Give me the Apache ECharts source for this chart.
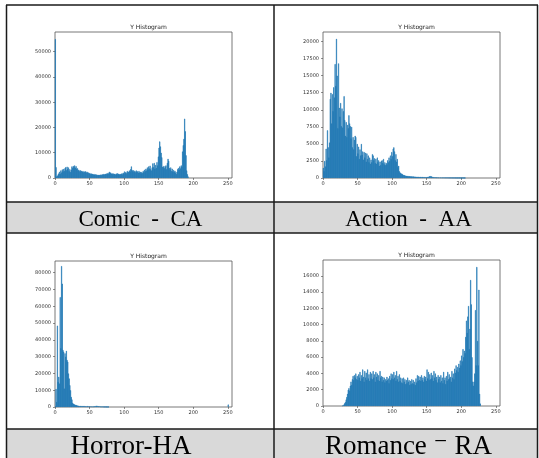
<!DOCTYPE html>
<html>
<head>
<meta charset="utf-8">
<script src="https://cdn.jsdelivr.net/npm/echarts@6/dist/echarts.min.js"></script>
<style>
html,body{margin:0;padding:0;background:#fff;}
#c{width:539px;height:458px;}
</style>
</head>
<body>
<div id="c"></div>
<script>
// bin index 0..255
const bins = Array.from({length: 256}, (_, i) => i);
const xTicks = [0, 50, 100, 150, 200, 250];

const captions = ['Comic  -  CA', 'Action  -  AA', 'Horror-HA', 'Romance \u207B RA'];
const chartTitle = 'Y Histogram';

const comicYTicks = [0, 10000, 20000, 30000, 40000, 50000];
const actionYTicks = [0, 2500, 5000, 7500, 10000, 12500, 15000, 17500, 20000];
const horrorYTicks = [0, 10000, 20000, 30000, 40000, 50000, 60000, 70000, 80000];
const romanceYTicks = [0, 2000, 4000, 6000, 8000, 10000, 12000, 14000, 16000];

const comic = [
55000,4300,600,900,1400,1800,2500,1600,3000,2200,
3400,2600,3600,2800,3900,4300,3100,4500,3600,4200,
2700,3500,2400,3300,4600,4000,4800,4300,5000,4100,
4700,3600,3900,3000,3300,2700,3100,2600,2900,2500,
2800,2300,2600,2400,2700,2200,2500,2000,2200,1800,
2000,1600,1800,1500,1700,1400,1600,1300,1500,1200,
1400,1200,1300,1100,1300,1200,1400,1200,1500,1300,
1600,1400,1700,1500,1800,1600,2000,1800,2500,2000,
2200,1700,1900,1600,1800,1500,1700,1400,1800,1500,
1900,1600,1700,1400,1600,1500,1800,1500,2100,1800,
2600,2000,2400,1900,2800,2300,2500,3000,2600,3500,
4600,3200,2700,3100,2400,2900,2300,3000,2400,2700,
2100,2800,2200,2500,1900,2400,2000,2800,2300,3300,
2700,3700,3000,4200,3400,4600,3800,4900,3500,3000,
4200,5800,4300,6000,3600,5200,4000,6300,5000,8500,
12000,14500,12500,10000,8200,4500,4300,4800,3900,4600,
5000,3500,6000,7600,6800,4000,3400,4200,2800,3700,
2600,3200,2400,2900,2200,1600,2500,3500,4000,3300,
4600,3800,5000,4500,10500,13000,15500,23500,18500,9000,
3000,1500,600,0,0,0,0,0,0,0,
0,0,0,0,0,0,0,0,0,0,
0,0,0,0,0,0,0,0,0,0,
0,0,0,0,0,0,0,0,0,0,
0,0,0,0,0,0,0,0,0,0,
0,0,0,0,0,0,0,0,0,0,
0,0,0,0,0,0
];

const action = [
1500,1000,2500,1700,4300,2600,7000,4500,3000,5200,
11600,12500,8000,12300,9800,13300,11800,16700,13500,20400,
15000,7300,16800,10300,9000,11000,7600,10200,7400,9800,
12000,8500,6200,8200,6000,7800,7300,9200,8000,7600,
5800,7500,4500,6000,4200,5600,6200,6000,3200,5000,
3600,4600,2800,4200,3300,5000,3400,3900,2700,3800,
3000,3700,2400,3600,2800,3300,2300,3000,2100,2700,
2300,3500,3300,2600,2900,2200,2800,2100,3000,2300,
2600,1800,2400,1900,2500,2600,2200,2800,2000,2300,
1900,2200,2000,2600,2300,3000,2500,3300,2800,3800,
3200,4300,4500,3900,2600,3500,2400,2800,1600,1800,
1000,800,700,650,600,500,450,420,380,350,
320,300,290,280,270,260,250,240,230,230,
220,210,200,200,190,180,180,170,170,160,
160,150,150,150,140,140,130,130,130,120,
140,160,180,220,260,280,250,200,160,130,
120,110,110,100,100,100,90,90,90,80,
80,80,80,70,70,70,70,60,60,60,
60,60,50,50,50,50,50,40,40,40,
40,40,30,30,30,30,30,30,20,20,
20,20,20,15,15,10,0,0,0,0,
0,0,0,0,0,0,0,0,0,0,
0,0,0,0,0,0,0,0,0,0,
0,0,0,0,0,0,0,0,0,0,
0,0,0,0,0,0,0,0,0,0,
0,0,0,0,0,0
];

const horror = [
200,10800,3000,48500,15000,18000,14000,65500,35000,84000,
73500,34000,33000,11000,32000,30000,33500,28000,27000,20000,
17000,13000,10000,6000,4500,2500,2000,1700,1500,1300,
1200,1000,900,800,700,600,700,500,600,500,
700,500,600,400,500,400,600,400,500,400,
450,350,400,300,350,300,500,400,600,500,
800,600,500,400,500,300,300,250,300,200,
200,150,150,120,120,100,100,100,0,0,
0,0,0,0,0,0,0,0,0,0,
0,0,0,0,0,0,0,0,0,0,
0,0,0,0,0,0,0,0,0,0,
0,0,0,0,0,0,0,0,0,0,
0,0,0,0,0,0,0,0,0,0,
0,0,0,0,0,0,0,0,0,0,
0,0,0,0,0,0,0,0,0,0,
0,0,0,0,0,0,0,0,0,0,
0,0,0,0,0,0,0,0,0,0,
0,0,0,0,0,0,0,0,0,0,
0,0,0,0,0,0,0,0,0,0,
0,0,0,0,0,0,0,0,0,0,
0,0,0,0,0,0,0,0,0,0,
0,0,0,0,0,0,0,0,0,0,
0,0,0,0,0,0,0,0,0,0,
0,0,0,0,0,0,0,0,0,0,
0,0,0,0,0,0,0,0,0,0,
1500,0,0,0,0,0
];

const romance = [
0,0,0,0,0,0,0,0,0,0,
0,0,0,0,0,0,0,0,0,0,
0,0,0,0,0,0,0,0,50,100,
200,350,500,800,1100,1500,2000,2200,1900,2500,
3000,2600,3300,3700,3200,3800,3500,4000,3300,3700,
3200,3900,3500,4200,3100,3800,3400,4500,3600,3000,
4300,3500,4100,3200,4500,3400,3900,3100,4200,3400,
4000,3300,4300,3500,3900,3000,4200,3600,4000,3200,
3800,3100,4300,3500,3700,3000,3600,3200,3500,2900,
3300,3100,3600,3200,3400,2800,3700,3200,4000,3400,
3900,3300,4200,3500,3800,3100,4300,3300,3700,3000,
3900,3100,3500,2900,3400,2800,3500,3000,3300,2700,
3200,2800,3500,3000,3200,2600,3100,2700,3300,2800,
3200,2700,3000,2600,3400,2900,3800,3100,3700,3200,
3600,3100,3800,3200,3500,3000,3700,3300,3600,3100,
4500,3400,4200,3200,3900,3300,4100,3400,3800,3100,
4300,3500,4000,3200,3600,2900,3800,3300,3600,2900,
3800,3100,3500,2800,4200,3200,3500,2700,3700,3100,
4200,3300,3900,3400,3600,3000,4300,3500,4000,3300,
4600,4100,5000,4400,4800,4200,5200,4700,5600,5000,
6200,5500,7000,6000,6800,6500,8500,10500,9000,11000,
12300,7000,9500,15500,12500,6000,3000,2500,3000,4000,
11800,5000,17100,8000,5000,14300,1500,300,0,0,
0,0,0,0,0,0,0,0,0,0,
0,0,0,0,0,0,0,0,0,0,
0,0,0,0,0,0
];

const panels = [
  {data: comic,   yTicks: comicYTicks,   yMax: 57800, yInt: 10000, left: 55,  top: 32},
  {data: action,  yTicks: actionYTicks,  yMax: 21400, yInt: 2500,  left: 323, top: 32},
  {data: horror,  yTicks: horrorYTicks,  yMax: 87000, yInt: 10000, left: 55,  top: 261},
  {data: romance, yTicks: romanceYTicks, yMax: 17950, yInt: 2000,  left: 323, top: 260}
];

const GW = 177, GH = 146;
const tickColor = '#444';
const labelStyle = {fontFamily: 'DejaVu Sans', fontSize: 5, color: '#333', formatter: (v) => String(v)};

const grid = [], xAxis = [], yAxis = [], series = [], title = [];
panels.forEach((p, i) => {
  grid.push({left: p.left, top: p.top, width: GW, height: GH, show: true,
    borderColor: '#555', borderWidth: 0.8, backgroundColor: '#fff', containLabel: false});
  xAxis.push({type: 'value', gridIndex: i, min: 0, max: 256, interval: 50,
    axisLine: {show: false}, splitLine: {show: false},
    axisTick: {show: true, length: 2, lineStyle: {color: tickColor, width: 0.6}, customValues: xTicks},
    axisLabel: Object.assign({margin: 3, customValues: xTicks}, labelStyle)});
  xAxis.push({type: 'category', gridIndex: i, data: bins, show: false, boundaryGap: true});
  yAxis.push({type: 'value', gridIndex: i, min: 0, max: p.yMax, interval: p.yInt,
    axisLine: {show: false}, splitLine: {show: false},
    axisTick: {show: true, length: 2, lineStyle: {color: tickColor, width: 0.6}, customValues: p.yTicks},
    axisLabel: Object.assign({margin: 4, customValues: p.yTicks}, labelStyle)});
  series.push({type: 'bar', xAxisIndex: i * 2 + 1, yAxisIndex: i,
    data: p.data.map(v => (v === 0 ? '-' : v)),
    barCategoryGap: '0%', z: 3,
    itemStyle: {color: '#1f77b4', borderColor: '#1f77b4', borderWidth: 0.6}, silent: true});
  title.push({text: chartTitle, left: p.left + GW / 2, top: p.top - 12.5, textAlign: 'center',
    textStyle: {fontFamily: 'DejaVu Sans', fontSize: 6, fontWeight: 'normal', color: '#222'}});
});

const lineStyle = {stroke: '#1a1a1a', lineWidth: 1.5};
const hLine = (y) => ({type: 'line', shape: {x1: 6, y1: y, x2: 538, y2: y}, style: lineStyle, z: 10});
const vLine = (x) => ({type: 'line', shape: {x1: x, y1: 5, x2: x, y2: 458}, style: lineStyle, z: 10});
const capText = (t, x, y, size) => ({type: 'text', z: 11, style: {text: t, x: x, y: y,
  textAlign: 'center', textVerticalAlign: 'middle', align: 'center', verticalAlign: 'middle',
  fontSize: size, fontFamily: '"Liberation Serif", "DejaVu Serif", serif', fill: '#000'}});

const graphic = [
  {type: 'rect', shape: {x: 6, y: 202, width: 532, height: 31}, style: {fill: '#d9d9d9'}, z: 0},
  {type: 'rect', shape: {x: 6, y: 429, width: 532, height: 30}, style: {fill: '#d9d9d9'}, z: 0},
  hLine(5), hLine(202), hLine(233), hLine(429),
  vLine(6.5), vLine(274), vLine(537.5),
  capText(captions[0], 140.5, 219.5, 23),
  capText(captions[1], 408.5, 219.5, 23),
  capText(captions[2], 131, 447, 27),
  capText(captions[3], 408.5, 447, 27)
];

const chart = echarts.init(document.getElementById('c'), null, {renderer: 'canvas'});
chart.setOption({animation: false, backgroundColor: '#fff', title, grid, xAxis, yAxis, series, graphic});
</script>
</body>
</html>
